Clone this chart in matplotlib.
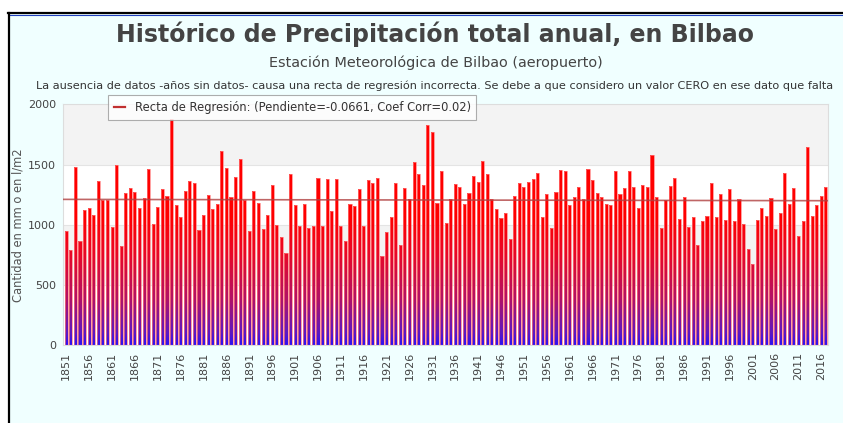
import numpy as np
import matplotlib
matplotlib.use("Agg")
import matplotlib.pyplot as plt
from matplotlib.colors import LinearSegmentedColormap
from matplotlib.lines import Line2D
from matplotlib.patches import PathPatch, Rectangle
from matplotlib.path import Path

# annual precipitation, Bilbao airport, 1851-2017 (mm)
years = list(range(1851, 2018))
precip = [
    948, 793, 1477, 868, 1123, 1142, 1084, 1361, 1209, 1209,   # 1851-1860
    979, 1497, 820, 1267, 1303, 1275, 1139, 1222, 1466, 1003,  # 1861-1870
    1150, 1294, 1239, 1877, 1167, 1067, 1278, 1361, 1350, 956, # 1871-1880
    1084, 1250, 1131, 1175, 1613, 1475, 1231, 1394, 1550, 1209,  # 1881-1890
    948, 1278, 1184, 964, 1084, 1331, 1000, 895, 765, 1422,    # 1891-1900
    1167, 992, 1175, 976, 992, 1386, 992, 1378, 1112, 1378,    # 1901-1910
    992, 865, 1175, 1159, 1295, 992, 1369, 1350, 1386, 740,    # 1911-1920
    937, 1067, 1350, 829, 1303, 1211, 1522, 1422, 1331, 1830,  # 1921-1930
    1768, 1184, 1450, 1012, 1211, 1339, 1311, 1175, 1267, 1403,  # 1931-1940
    1358, 1530, 1422, 1211, 1131, 1059, 1095, 884, 1239, 1350,  # 1941-1950
    1311, 1358, 1378, 1430, 1067, 1258, 976, 1275, 1458, 1450,  # 1951-1960
    1167, 1231, 1311, 1211, 1466, 1375, 1267, 1231, 1175, 1167,  # 1961-1970
    1450, 1258, 1303, 1450, 1311, 1139, 1331, 1311, 1577, 1231,  # 1971-1980
    976, 1203, 1322, 1386, 1051, 1231, 984, 1067, 829, 1028,   # 1981-1990
    1075, 1350, 1067, 1258, 1040, 1295, 1028, 1211, 1003, 801,  # 1991-2000
    674, 1040, 1139, 1075, 1220, 967, 1095, 1430, 1175, 1303,  # 2001-2010
    904, 1028, 1649, 1075, 1167, 1239, 1311,                   # 2011-2017
]
tick_years = list(range(1851, 2017, 5))
y_ticks = [0, 500, 1000, 1500, 2000]

# regression shown on the original chart
reg_start = 1211
reg_slope = -0.0661
reg_label = "Recta de Regresión: (Pendiente=-0.0661, Coef Corr=0.02)"

title = "Histórico de Precipitación total anual, en Bilbao"
subtitle = "Estación Meteorológica de Bilbao (aeropuerto)"
note = ("La ausencia de datos -años sin datos- causa una recta de regresión incorrecta. "
        "Se debe a que considero un valor CERO en ese dato que falta")

W, H = 843, 423
fig = plt.figure(figsize=(W / 100, H / 100), dpi=100)
fig.patch.set_facecolor("white")

# page background and borders
fig.add_artist(Rectangle((9 / W, 0), 1, 1 - 14 / H, transform=fig.transFigure,
                         facecolor="#f0ffff", edgecolor="none", zorder=-10))
fig.add_artist(Line2D([8 / W, 1], [1 - 13 / H, 1 - 13 / H], transform=fig.transFigure,
                      color="black", lw=1.6))
fig.add_artist(Line2D([9 / W, 1], [1 - 15.5 / H, 1 - 15.5 / H], transform=fig.transFigure,
                      color="#2040c0", lw=0.8))
fig.add_artist(Line2D([8.5 / W, 8.5 / W], [0, 1 - 13 / H], transform=fig.transFigure,
                      color="black", lw=1.6))

fig.text(435 / W, 1 - 34 / H, title, ha="center", va="center", fontsize=17,
         fontweight="bold", color="#444444")
fig.text(436 / W, 1 - 63 / H, subtitle, ha="center", va="center", fontsize=10.4,
         color="#444444")
fig.text(435 / W, 1 - 86 / H, note, ha="center", va="center", fontsize=8.15,
         color="#333333")

ax = fig.add_axes([63 / W, (H - 345) / H, (828 - 63) / W, (345 - 104.5) / H])
ax.set_facecolor("white")

x = np.arange(len(years))

# alternating bands
for lo, col in zip(y_ticks[:-1], ["white", "#f3f3f3", "white", "#f3f3f3"]):
    ax.axhspan(lo, lo + 500, color=col, zorder=0, lw=0)
for yv in y_ticks[1:-1]:
    ax.axhline(yv, color="#e4e4e4", lw=0.8, zorder=0.5)

# bars with a vertical red-to-blue gradient
bars = ax.bar(x, precip, width=0.68, facecolor="none", edgecolor="#ff7a7a",
              linewidth=0.5, zorder=3)
paths = [b.get_path().transformed(b.get_patch_transform()) for b in bars]
clip = PathPatch(Path.make_compound_path(*paths), transform=ax.transData,
                 facecolor="none", edgecolor="none")
ax.add_patch(clip)
cmap = LinearSegmentedColormap.from_list(
    "rb", [(0, "#3010f0"), (0.08, "#6018c0"), (0.3, "#b01268"),
           (0.6, "#e80828"), (0.85, "#ff0000"), (1, "#ff0000")])
grad = np.linspace(0, 1, 256).reshape(-1, 1)
grad = np.clip(grad * 1.6, 0, 1)
im = ax.imshow(grad, cmap=cmap, aspect="auto", origin="lower",
               extent=(-1, len(years) + 1, 0, 2000), zorder=2)
im.set_clip_path(clip)
ax.set_xlim(-0.72, len(years) - 0.55)
ax.set_ylim(0, 2000)

# regression line
xr = np.array(ax.get_xlim())
ax.plot(xr, reg_start + reg_slope * (xr - xr[0]), color="#b04040", lw=1.2,
        alpha=0.8, zorder=4)

ax.set_xticks([years.index(t) for t in tick_years])
ax.set_xticklabels([str(t) for t in tick_years], rotation=90, fontsize=8,
                   color="#444444")
ax.set_yticks(y_ticks)
ax.set_yticklabels([str(v) for v in y_ticks], fontsize=8, color="#444444")
ax.tick_params(length=0, pad=5)
for s in ax.spines.values():
    s.set_color("#dddddd")
    s.set_linewidth(0.8)

fig.text(18 / W, 1 - 225 / H, "Cantidad en mm o en l/m2", rotation=90,
         ha="center", va="center", fontsize=8.3, color="#555555")

handle = Line2D([], [], color="#c03030", lw=1.6)
leg = fig.legend([handle], [reg_label], loc="upper left",
                 bbox_to_anchor=(108 / W, 1 - 95 / H), bbox_transform=fig.transFigure,
                 fontsize=8.3, frameon=True, fancybox=False, borderaxespad=0,
                 handlelength=1.0, handletextpad=0.8, borderpad=0.5)
leg.get_frame().set_edgecolor("#999999")
leg.get_frame().set_linewidth(0.8)
leg.set_zorder(10)
for t in leg.get_texts():
    t.set_color("#333333")

fig.savefig("out.png", dpi=100)
